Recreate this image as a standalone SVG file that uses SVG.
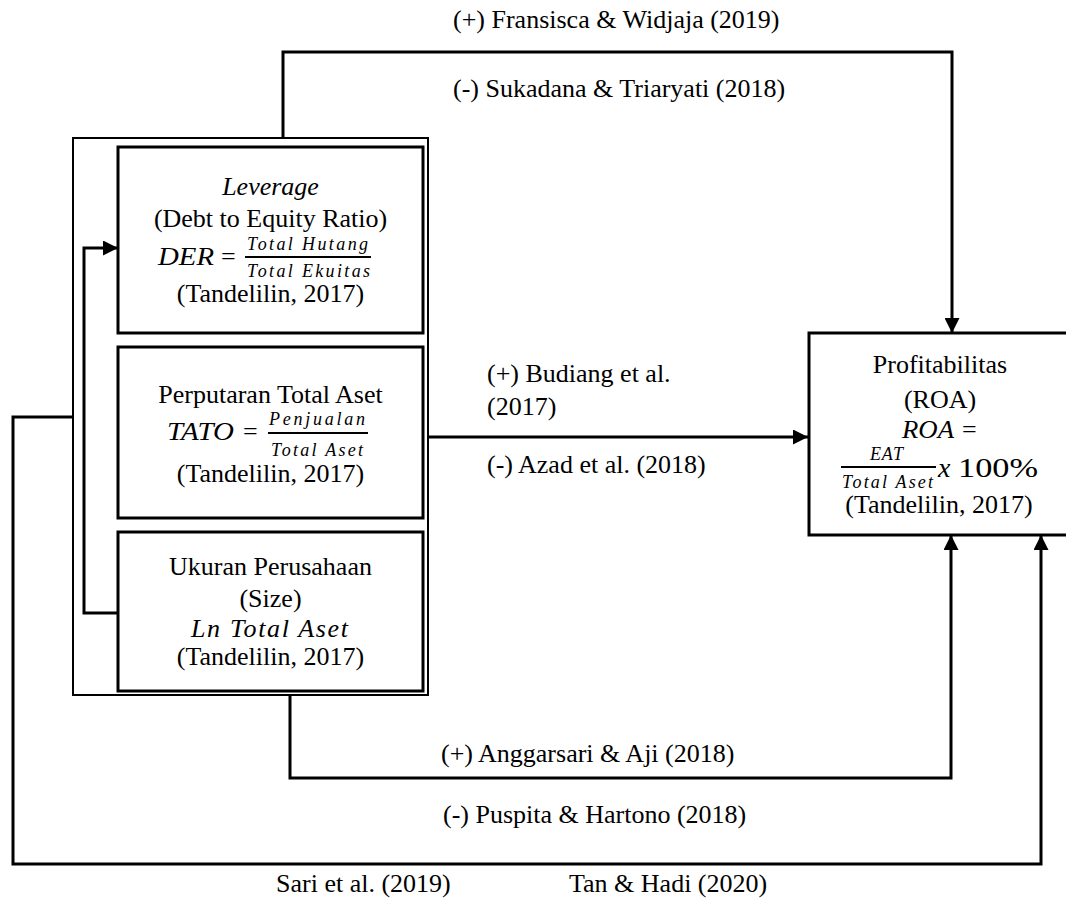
<svg xmlns="http://www.w3.org/2000/svg" width="1066" height="899" viewBox="0 0 1066 899">
<style>
.t{font-family:"Liberation Serif","Times New Roman",serif;font-size:26px;fill:#000}
.c{text-anchor:middle}
.i{font-style:italic}
.s{font-family:"Liberation Serif","Times New Roman",serif;font-size:18px;font-style:italic;fill:#000}
.box{fill:#fff;stroke:#000;stroke-width:3}
.outer{fill:none;stroke:#000;stroke-width:2}
.bar{stroke:#000;stroke-width:2}
.conn{fill:none;stroke:#000;stroke-width:3}
</style>
<defs>
<marker id="ah" markerUnits="userSpaceOnUse" markerWidth="15" markerHeight="15" refX="15" refY="7.5" orient="auto">
<path d="M0,0 L15,7.5 L0,15 z" fill="#000"/>
</marker>
</defs>
<rect width="1066" height="899" fill="#fff"/>

<g id="group-x">
<rect class="outer" x="73" y="138" width="355" height="557"/>
</g>

<g id="leverage">
<rect class="box" x="118" y="147" width="305" height="186"/>
<text class="t c i" x="270.5" y="195">Leverage</text>
<text class="t c" x="270.5" y="227">(Debt to Equity Ratio)</text>
<text class="t i" x="158" y="265" textLength="56" lengthAdjust="spacingAndGlyphs">DER</text>
<text class="t" x="221" y="265">=</text>
<text class="s" x="247" y="250" textLength="121" lengthAdjust="spacing">Total Hutang</text>
<line class="bar" x1="245" y1="257" x2="371" y2="257"/>
<text class="s" x="247" y="277" textLength="123" lengthAdjust="spacing">Total Ekuitas</text>
<text class="t c" x="270.5" y="302">(Tandelilin, 2017)</text>
</g>

<g id="tato">
<rect class="box" x="118" y="347" width="305" height="171"/>
<text class="t c" x="270.5" y="403">Perputaran Total Aset</text>
<text class="t i" x="167" y="440" textLength="67" lengthAdjust="spacingAndGlyphs">TATO</text>
<text class="t" x="243" y="440">=</text>
<text class="s" x="269" y="425" textLength="96" lengthAdjust="spacing">Penjualan</text>
<line class="bar" x1="268" y1="433" x2="368" y2="433"/>
<text class="s" x="271" y="456" textLength="92" lengthAdjust="spacing">Total Aset</text>
<text class="t c" x="270.5" y="482">(Tandelilin, 2017)</text>
</g>

<g id="size">
<rect class="box" x="118" y="532" width="305" height="159"/>
<text class="t c" x="270.5" y="575">Ukuran Perusahaan</text>
<text class="t c" x="270.5" y="607">(Size)</text>
<text class="t i" x="191" y="637" textLength="157" lengthAdjust="spacing">Ln Total Aset</text>
<text class="t c" x="270.5" y="665">(Tandelilin, 2017)</text>
</g>

<g id="roa">
<rect class="box" x="809" y="333" width="262" height="202"/>
<text class="t c" x="940" y="373">Profitabilitas</text>
<text class="t c" x="940" y="408">(ROA)</text>
<text class="t i" x="902" y="438" textLength="52" lengthAdjust="spacingAndGlyphs">ROA</text>
<text class="t" x="962" y="438">=</text>
<text class="s" x="870" y="460" textLength="33" lengthAdjust="spacing">EAT</text>
<line class="bar" x1="841" y1="467" x2="936" y2="467"/>
<text class="s" x="842" y="488" textLength="91" lengthAdjust="spacing">Total Aset</text>
<text class="t i" x="938" y="477" style="font-size:28px">x</text>
<text class="t" x="958" y="477" style="font-size:28px" textLength="80" lengthAdjust="spacingAndGlyphs">100%</text>
<text class="t c" x="939" y="513">(Tandelilin, 2017)</text>
</g>

<g id="connectors">
<polyline class="conn" points="283,137 283,52 952,52 952,333" marker-end="url(#ah)"/>
<line class="conn" x1="428" y1="437" x2="808" y2="437" marker-end="url(#ah)"/>
<polyline class="conn" points="290,695 290,778 951,778 951,535" marker-end="url(#ah)"/>
<polyline class="conn" points="73,417 13,417 13,864 1041,864 1041,535" marker-end="url(#ah)"/>
<polyline class="conn" points="118,613 84,613 84,248 118,248" marker-end="url(#ah)"/>
</g>

<g id="labels">
<text class="t" x="453" y="28">(+) Fransisca &amp; Widjaja (2019)</text>
<text class="t" x="453" y="97">(-) Sukadana &amp; Triaryati (2018)</text>
<text class="t" x="487" y="382">(+) Budiang et al.</text>
<text class="t" x="487" y="415">(2017)</text>
<text class="t" x="487" y="473">(-) Azad et al. (2018)</text>
<text class="t" x="441" y="762">(+) Anggarsari &amp; Aji (2018)</text>
<text class="t" x="443" y="823">(-) Puspita &amp; Hartono (2018)</text>
<text class="t" x="276" y="892">Sari et al. (2019)</text>
<text class="t" x="569" y="892">Tan &amp; Hadi (2020)</text>
</g>
</svg>
